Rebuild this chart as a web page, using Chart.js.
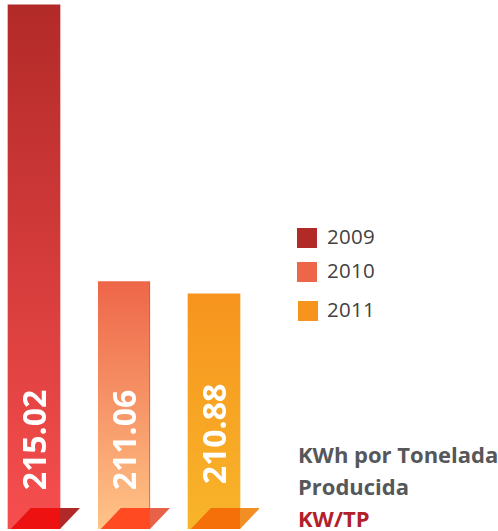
<!DOCTYPE html>
<html>
<head>
<meta charset="utf-8">
<script src="https://cdn.jsdelivr.net/npm/chart.js@4.4.1/dist/chart.umd.min.js"></script>
<style>
  body{margin:0;background:#fff;width:498px;height:531px;overflow:hidden;position:relative;font-family:"Open Sans",sans-serif;}
  #wrap{position:absolute;left:-11px;top:0;width:270px;height:531px;}
  #legend{position:absolute;left:297px;top:0;}
  .item{position:absolute;left:0;height:20px;width:120px;}
  .item:nth-child(1){top:228px;}
  .item:nth-child(2){top:262px;}
  .item:nth-child(3){top:301px;}
  .item span.sw{position:absolute;left:0;top:0;width:20px;height:20px;}
  .item:nth-child(3) span.sw{left:1px;}
  .item span.tx{position:absolute;left:30px;top:-2px;font-size:20.5px;color:#463f3f;line-height:20px;letter-spacing:0.3px;}
  #caption{position:absolute;left:298px;top:438px;font-weight:bold;font-size:22px;line-height:32px;color:#56575a;white-space:nowrap;}
  #caption .unit{color:#b2202a;}
</style>
</head>
<body>
<div id="wrap"><canvas id="myChart"></canvas></div>
<div id="legend"></div>
<div id="caption">KWh por Tonelada<br>Producida<br><span class="unit">KW/TP</span></div>
<script>
const years = ['2009', '2010', '2011'];
const kwhPerTon = [215.02, 211.06, 210.88];
const legendColors = ['#b22a28', '#ee6648', '#f7941e'];
const topColors = ['#b22a28', '#ee6648', '#f7941e'];
const bottomColors = ['#f74e4e', '#ffc487', '#f8b52a'];
const footInside = ['#ee1111', '#ff4a22', '#f57008'];
const footOutside = ['#b02828', '#e8624a', '#f38e24'];

// legend as html
const legendEl = document.getElementById('legend');
years.forEach((y, i) => {
  const d = document.createElement('div');
  d.className = 'item';
  d.innerHTML = '<span class="sw" style="background:' + legendColors[i] + '"></span><span class="tx">' + y + '</span>';
  legendEl.appendChild(d);
});

function barGradient(ctx) {
  const chart = ctx.chart;
  const area = chart.chartArea;
  if (!area) return topColors[ctx.dataIndex];
  const yScale = chart.scales.y;
  const top = yScale.getPixelForValue(ctx.raw);
  const g = chart.ctx.createLinearGradient(0, top, 0, area.bottom);
  g.addColorStop(0, topColors[ctx.dataIndex]);
  g.addColorStop(1, bottomColors[ctx.dataIndex]);
  return g;
}

function footPath(c, l, r, bottom, h) {
  c.beginPath();
  c.moveTo(l + 23, bottom - h);
  c.lineTo(r + 20, bottom - h);
  c.lineTo(r, bottom);
  c.lineTo(l + 3, bottom);
  c.closePath();
}

// folded foot + value text
const decorations = {
  id: 'decorations',
  afterDatasetsDraw(chart) {
    const c = chart.ctx;
    const meta = chart.getDatasetMeta(0);
    const bottom = chart.chartArea.bottom;
    meta.data.forEach((bar, i) => {
      const l = bar.x - bar.width / 2;
      const r = bar.x + bar.width / 2;
      const h = 21;
      c.save();
      footPath(c, l, r, bottom, h);
      c.fillStyle = footOutside[i];
      c.fill();
      c.save();
      c.beginPath();
      c.rect(l, bottom - h - 1, r - l, h + 2);
      c.clip();
      footPath(c, l, r, bottom, h);
      c.fillStyle = footInside[i];
      c.fill();
      c.restore();

      c.translate(bar.x + 11.5, bottom - (i === 2 ? 95 : 89));
      c.rotate(-Math.PI / 2);
      c.fillStyle = '#fff';
      c.font = 'bold 32px "Open Sans"';
      c.textAlign = 'center';
      c.textBaseline = 'alphabetic';
      c.fillText(kwhPerTon[i].toFixed(2), 0, 0);
      c.restore();
    });
  }
};

function draw() {
  new Chart('myChart', {
    type: 'bar',
    data: {
      labels: years,
      datasets: [{
        data: kwhPerTon,
        backgroundColor: barGradient,
        borderColor: '#e0503a',
        borderWidth: (ctx) => ctx.dataIndex === 1 ? {right: 1, left: 0, top: 0, bottom: 0} : 0,
        borderSkipped: false,
        barThickness: 52
      }]
    },
    options: {
      responsive: true,
      maintainAspectRatio: false,
      animation: false,
      layout: {padding: {left: 0, right: 0, top: 0, bottom: 2}},
      plugins: {
        legend: {display: false},
        tooltip: {enabled: false}
      },
      scales: {
        x: {display: false, grid: {display: false}},
        y: {display: false, min: 207.51, max: 215.09, grid: {display: false}}
      }
    },
    plugins: [decorations]
  });
}

document.fonts.load('bold 32px "Open Sans"').then(draw, draw);
</script>
</body>
</html>
